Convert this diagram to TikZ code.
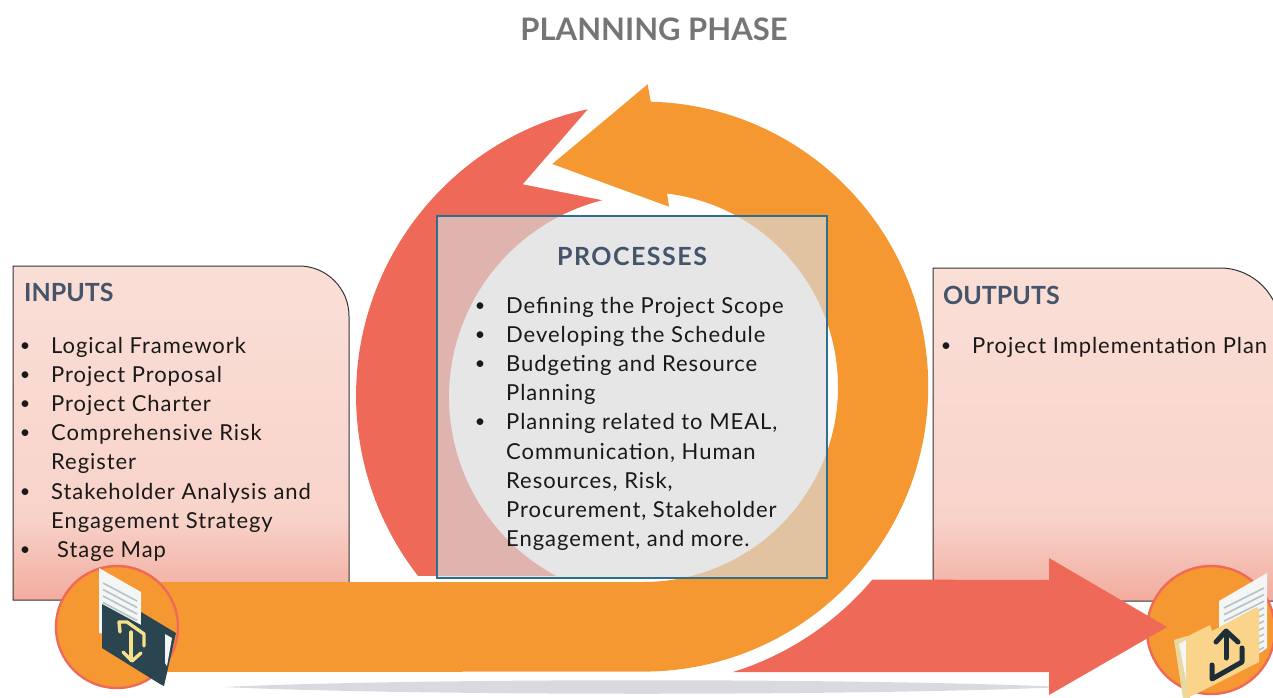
\documentclass[tikz,border=0pt]{standalone}
\usepackage{fontspec}
\usetikzlibrary{calc}
\setmainfont{Lato}
\newfontfamily\listfont[LetterSpace=4.3]{Lato}
\newfontfamily\headfont[LetterSpace=6]{Lato}
\definecolor{cycleOrange}{HTML}{F69832}
\definecolor{cycleRed}{HTML}{EE6957}
\definecolor{boxGrey}{HTML}{D9D9D9}
\definecolor{boxEdge}{HTML}{2F6E8C}
\definecolor{headBlue}{HTML}{44546A}
\definecolor{titleGrey}{HTML}{757575}
\definecolor{panelTop}{HTML}{FADFD7}
\definecolor{panelMid}{HTML}{F8D3CA}
\definecolor{panelLow}{HTML}{F2AC9E}
\definecolor{folderDark}{HTML}{2A4450}
\definecolor{folderTan}{HTML}{F9D48A}
\definecolor{folderBack}{HTML}{E8D9A0}
\definecolor{paperLine}{HTML}{B5C4C8}
\definecolor{paperWhite}{HTML}{F4F5F5}
\definecolor{arrowYellow}{HTML}{F5E08C}
\definecolor{arrowDark}{HTML}{1C2F38}
\definecolor{shadowGrey}{HTML}{D9DAE0}
\pgfdeclareverticalshading{panelfade}{100bp}{color(0bp)=(panelLow); color(25bp)=(panelLow); color(37.5bp)=(panelMid); color(75bp)=(panelTop); color(100bp)=(panelTop)}
\tikzset{
  panel/.style={shading=panelfade, draw=black!80, line width=1pt},
  listtext/.style={font=\listfont\fontsize{22}{26}\selectfont, anchor=base west, inner sep=0pt, text=black!90},
  bullet/.style={font=\fontsize{18}{22}\selectfont, anchor=base, inner sep=0pt, text=black!90},
  heading/.style={font=\fontsize{25}{30}\selectfont\bfseries, anchor=base west, inner sep=0pt, text=headBlue},
  badge/.style={draw=cycleRed, fill=cycleOrange, line width=2.4pt},
  iconline/.style={line width=5pt, line cap=round, line join=round}
}
\begin{document}
\begin{tikzpicture}[yscale=-1, x=1pt, y=1pt]
    \useasboundingbox (0,0) rectangle (1273,698);
    \clip (0,0) rectangle (1273,698);

    % Define the positions of the circles
    \coordinate (redInner) at (652,397);
    \coordinate (inBadge) at (117,627);
    \coordinate (outBadge) at (1211,630);

    % Draw the title
    \node[font=\fontsize{31}{34}\selectfont\bfseries, text=titleGrey, anchor=base, inner sep=0pt] (title) at (654,41) {PLANNING PHASE};

    % Draw the side panels
    \path[panel] (13,600) -- (13,266) -- (299,266) arc[start angle=-90, end angle=0, radius=50] -- (349,600) -- cycle;
    \path[panel] (933,601) -- (933,268) -- (1220,268) arc[start angle=-90, end angle=0, radius=60] -- (1280,601) -- cycle;

    % Draw the shadow under the arrows
    \fill[shadowGrey] (223,687) .. controls (420,678) and (860,678) .. (1065,687) .. controls (860,696) and (420,696) .. cycle;

    % Draw the red arc
    \fill[cycleRed] (587.7,109.3) arc[start angle=257.9, end angle=142.1, radius=293]
        -- ($(redInner)+(118.2:203)$) arc[start angle=118.2, end angle=255.8, radius=203]
        -- (522.7,184.3) -- cycle;

    % Draw the orange arrow
    \fill[cycleOrange] (650.7,101.7) arc[start angle=-88.5, end angle=90, radius=285]
        -- (150,672) -- (150,582) -- (643,582) arc[start angle=90, end angle=-82.9, radius=195]
        -- (669,206.7) -- (552.3,164) -- (647.7,84.3) -- cycle;

    % Draw the badges
    \path[badge] (inBadge) circle[radius=61];
    \path[badge] (outBadge) circle[radius=64];

    % Draw the red arrow
    \fill[cycleRed] (1049,580) -- (1049,558) -- (1167,627) -- (1049,695) -- (1049,672) -- (733,672)
        arc[start angle=72.7, end angle=40.2, radius=299] -- cycle;

    % Draw the left icon
    \fill[paperWhite] (99,568) -- (141,592) -- (141,625) -- (105,634) -- (99,633) -- cycle;
    \foreach \n in {0,...,4}
        \draw[paperLine, line width=1.6pt] (103,{583+\n*6.5}) -- (137,{601+\n*6.5});
    \fill[folderDark] (102,604) -- (141,625) -- (141,612) -- (176,633) -- (164,686) -- (160,684) -- (102,648) -- cycle;
    \fill[paperWhite] (165,634) -- (172,638) -- (167,666) -- (165,663) -- cycle;
    \draw[iconline, arrowYellow, line width=3.4pt] (120,632) -- (119,622) -- (127,622) -- (144,634) -- (144,646);
    \draw[iconline, arrowYellow, line width=3.4pt] (131,632) -- (131,660);
    \draw[iconline, arrowYellow, line width=3.4pt] (123,652) -- (132,661) -- (141,653);

    % Draw the right icon
    \fill[paperWhite] (1219,601) -- (1267,573) -- (1267,648) -- (1260,653) -- (1219,627) -- cycle;
    \foreach \n in {0,...,9}
        \draw[paperLine, line width=1.6pt] (1224,{608+\n*6.6}) -- (1264,{588+\n*6.6});
    \fill[folderBack] (1174,640) -- (1187,636) -- (1190,698) -- (1183,698) -- cycle;
    \fill[paperWhite] (1179,644) -- (1186,640) -- (1186,680) -- cycle;
    \fill[folderTan] (1186,637) -- (1210,625) -- (1212,631) -- (1257,607) -- (1259,610) -- (1259,662) -- (1198,693) -- (1187,698) -- cycle;
    \draw[iconline, arrowDark] (1226,632) -- (1226,658);
    \draw[iconline, arrowDark] (1216,642) -- (1226,631) -- (1238,642);
    \draw[iconline, arrowDark] (1242,648) -- (1242,662) -- (1212,679) -- (1212,665);

    % Draw the centre box
    \path[fill=boxGrey, fill opacity=0.67, draw=boxEdge, line width=1.4pt] (437,216) rectangle (827,578);

    % Draw the labels
    \node[heading] (inputsHead) at (24,301) {INPUTS};
    \node[heading] (outputsHead) at (943,304) {OUTPUTS};
    \node[heading, anchor=base, font=\headfont\fontsize{25}{30}\selectfont\bfseries] (processHead) at (632,265) {PROCESSES};

    % Draw the inputs list
    \foreach \n/\x/\txt in {0/51/Logical Framework, 1/51/Project Proposal, 2/51/Project Charter,
        3/51/Comprehensive Risk, 4/51/Register, 5/51/Stakeholder Analysis and,
        6/51/Engagement Strategy, 7/57/Stage Map}
        \node[listtext] (inputLine\n) at (\x,{353+\n*29.2}) {\txt};
    \foreach \n in {0,1,2,3,5,7}
        \node[bullet] (inputDot\n) at (25,{351+\n*29.2}) {•};

    % Draw the process list
    \foreach \n/\txt in {0/Defining the Project Scope, 1/Developing the Schedule, 2/Budgeting and Resource,
        3/Planning, 4/{Planning related to MEAL,}, 5/{Communication, Human}, 6/{Resources, Risk,},
        7/{Procurement, Stakeholder}, 8/{Engagement, and more.}}
        \node[listtext] (processLine\n) at (506,{313+\n*29.2}) {\txt};
    \foreach \n in {0,1,2,4}
        \node[bullet] (processDot\n) at (480,{311+\n*29.2}) {•};

    % Draw the outputs list
    \node[listtext] (outputLine) at (972,353) {Project Implementation Plan};
    \node[bullet] (outputDot) at (946,351) {•};
\end{tikzpicture}
\end{document}
